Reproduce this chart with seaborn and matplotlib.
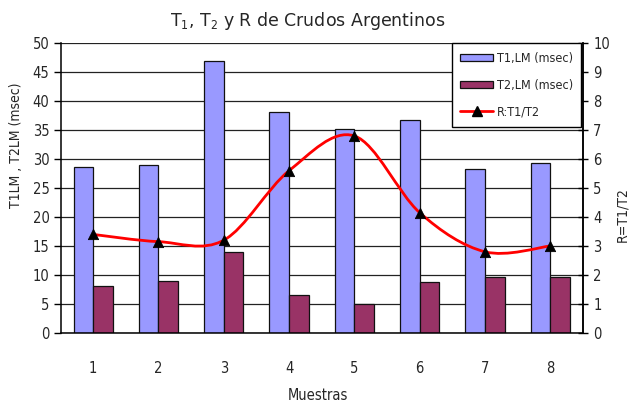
import numpy as np
import pandas as pd
import matplotlib
matplotlib.use("Agg")
import matplotlib.pyplot as plt
import seaborn as sns
from matplotlib.patches import Patch, PathPatch
from matplotlib.lines import Line2D
from matplotlib.path import Path

# Data
muestras = ["1", "2", "3", "4", "5", "6", "7", "8"]
t1_lm = [28.6, 28.9, 46.9, 38.1, 35.2, 36.8, 28.3, 29.3]
t2_lm = [8.1, 9.0, 14.0, 6.5, 5.0, 8.7, 9.6, 9.6]
r_ratio = [3.4, 3.15, 3.2, 5.6, 6.8, 4.15, 2.8, 3.0]

y_ticks_left = [0, 5, 10, 15, 20, 25, 30, 35, 40, 45, 50]
y_ticks_right = [0, 1, 2, 3, 4, 5, 6, 7, 8, 9, 10]

lbl_t1 = "T1,LM (msec)"
lbl_t2 = "T2,LM (msec)"
lbl_r = "R:T1/T2"

c_t1 = "#9999FF"
c_t2 = "#993366"

sns.set_style("white")
plt.rcParams["font.family"] = ["DejaVu Sans"]
plt.rcParams["font.stretch"] = "condensed"

df = pd.DataFrame({
    "muestra": muestras * 2,
    "valor": t1_lm + t2_lm,
    "serie": [lbl_t1] * len(muestras) + [lbl_t2] * len(muestras),
})

fig = plt.figure(figsize=(6.29, 4.04), dpi=100)
ax = fig.add_axes([0.0962, 0.176, 0.8306, 0.717])

ax.set_axisbelow(True)
ax.yaxis.grid(True, color="#222222", linewidth=0.9)
sns.barplot(data=df, x="muestra", y="valor", hue="serie",
            palette=[c_t1, c_t2], width=0.6, edgecolor="#111111",
            linewidth=0.9, ax=ax, legend=False, saturation=1)

ax.set_xlim(-0.5, len(muestras) - 0.5)
ax.set_ylim(0, 50)
ax.set_yticks(y_ticks_left)
ax.set_xlabel("")
ax.set_ylabel("")
ax.set_xticks(range(len(muestras)))
ax.set_xticklabels(muestras)
ax.set_xticks(np.arange(-0.5, len(muestras) + 0.5, 1.0), minor=True)
ax.tick_params(axis="x", which="major", length=0, pad=20, labelsize=10.5)
ax.tick_params(axis="x", which="minor", length=5, width=1, direction="out", color="black")
ax.tick_params(axis="y", which="major", length=5, width=1, direction="out", pad=3,
               labelsize=10.5, color="black")
for s in ["left", "bottom", "right"]:
    ax.spines[s].set_color("black")
    ax.spines[s].set_linewidth(1.1)
ax.spines["top"].set_visible(False)

# Secondary axis for the ratio
ax2 = ax.twinx()
ax2.set_ylim(0, 10)
ax2.set_yticks(y_ticks_right)
ax2.tick_params(axis="y", length=7, width=1, direction="inout", pad=4,
                labelsize=10.5, color="black")
for s in ["left", "bottom", "top"]:
    ax2.spines[s].set_visible(False)
ax2.spines["right"].set_color("black")
ax2.spines["right"].set_linewidth(1.1)

# Smoothed ratio curve (cubic Bezier through the sample points)
xs = np.arange(len(r_ratio), dtype=float)
ys = np.asarray(r_ratio, dtype=float)
px = np.concatenate([[xs[0]], xs, [xs[-1]]])
py = np.concatenate([[ys[0]], ys, [ys[-1]]])
verts = [(xs[0], ys[0])]
codes = [Path.MOVETO]
for i in range(1, len(px) - 2):
    c1 = (px[i] + (px[i + 1] - px[i - 1]) / 6, py[i] + (py[i + 1] - py[i - 1]) / 6)
    c2 = (px[i + 1] - (px[i + 2] - px[i]) / 6, py[i + 1] - (py[i + 2] - py[i]) / 6)
    verts += [c1, c2, (px[i + 1], py[i + 1])]
    codes += [Path.CURVE4] * 3
ax2.add_patch(PathPatch(Path(verts, codes), facecolor="none", edgecolor="#FF0000",
                        linewidth=2.0, zorder=3))
sns.scatterplot(x=xs, y=ys, marker="^", color="black", s=55, edgecolor="black",
                ax=ax2, zorder=4, legend=False)
ax2.set_xlim(-0.5, len(muestras) - 0.5)

handles = [
    Patch(facecolor=c_t1, edgecolor="#111111", linewidth=0.9),
    Patch(facecolor=c_t2, edgecolor="#111111", linewidth=0.9),
    Line2D([0], [0], color="#FF0000", linewidth=2, marker="^", markersize=7,
           markerfacecolor="black", markeredgecolor="black"),
]
leg = ax2.legend(handles, [lbl_t1, lbl_t2, lbl_r], loc="upper right",
                 bbox_to_anchor=(0.997, 1.0), borderaxespad=0, fontsize=9,
                 frameon=True, fancybox=False, framealpha=1, edgecolor="black",
                 handlelength=2.6, handleheight=0.5, labelspacing=1.1,
                 borderpad=0.7, handletextpad=0.3)
leg.get_frame().set_linewidth(1.0)
leg.set_zorder(10)

# Texts
fig.text(0.49, 0.947, r"T$_1$, T$_2$ y R de Crudos Argentinos", ha="center",
         va="center", fontsize=12.5, fontstretch="normal")
fig.text(0.026, 0.64, "T1LM , T2LM (msec)", rotation=90, ha="center",
         va="center", fontsize=10)
fig.text(0.989, 0.47, "R=T1/T2", rotation=90, ha="center", va="center",
         fontsize=10)
fig.text(0.505, 0.022, "Muestras", ha="center", va="center", fontsize=10.5)

fig.savefig("out.png", dpi=100)
